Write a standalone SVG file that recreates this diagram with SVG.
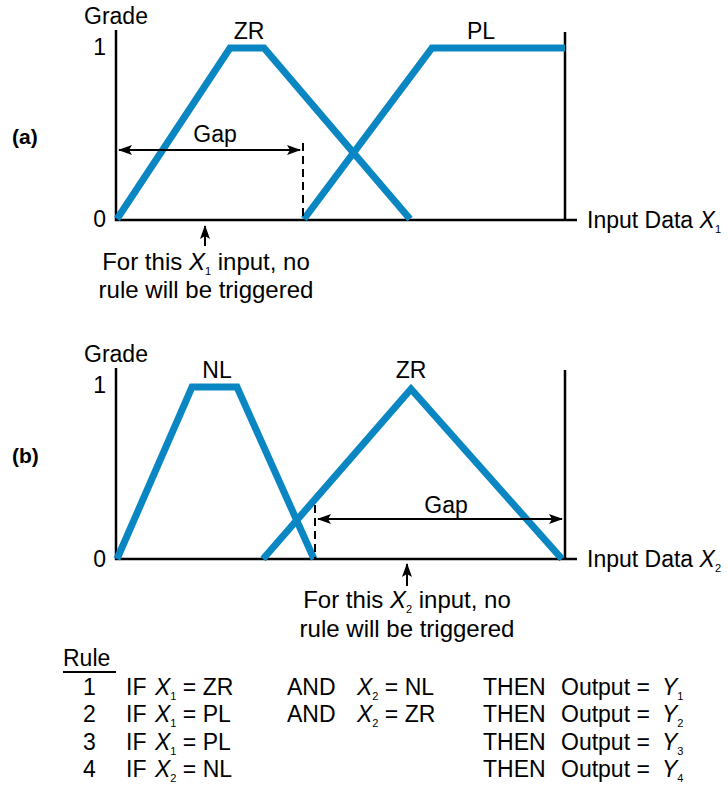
<svg xmlns="http://www.w3.org/2000/svg" width="728" height="790" viewBox="0 0 728 790">
<style>
text{font-family:"Liberation Sans",Arial,sans-serif;font-size:23px;fill:#000}
.b{font-weight:bold;font-size:21px}
.c{font-size:24px}
.i{font-style:italic}
.s{font-size:11px}
.m{text-anchor:middle}
.e{text-anchor:end}
.ax{stroke:#000;stroke-width:2.5;fill:none}
.mf{stroke:#0a86c3;stroke-width:7;fill:none;stroke-linejoin:miter}
.dash{stroke:#000;stroke-width:2;stroke-dasharray:8 5;fill:none}
.arr{stroke:#000;stroke-width:2;fill:none}
</style>
<defs>
<marker id="ah" markerWidth="14" markerHeight="10" refX="13" refY="5" orient="auto-start-reverse" markerUnits="userSpaceOnUse">
<path d="M0,0 L14,5 L0,10 L3,5 Z" fill="#000"/>
</marker>
</defs>

<g id="panel-a">
<text x="12" y="144" class="b">(a)</text>
<text x="84" y="24">Grade</text>
<text x="106" y="55" class="e">1</text>
<text x="106" y="227" class="e">0</text>
<text x="249" y="39" class="m">ZR</text>
<text x="481" y="39" class="m">PL</text>
<path class="ax" d="M116,30 V220 H577 M565,32 V220"/>
<polyline id="zr-a" class="mf" points="117,219 230,48 264,48 410,219"/>
<polyline id="pl-a" class="mf" points="304,219 432,48 565,48"/>
<text x="587" y="228">Input Data <tspan class="i">X</tspan><tspan class="s" dy="5">1</tspan></text>
</g>

<g id="panel-b">
<text x="12" y="463" class="b">(b)</text>
<text x="84" y="362">Grade</text>
<text x="106" y="393" class="e">1</text>
<text x="106" y="567" class="e">0</text>
<text x="217" y="378" class="m">NL</text>
<text x="411" y="378" class="m">ZR</text>
<path class="ax" d="M116,368 V559 H577 M565,370 V559"/>
<polyline id="nl-b" class="mf" points="117,559 192,387 237,387 314,559"/>
<polyline id="zr-b" class="mf" points="263,559 411,389 562,559"/>
<text x="587" y="567">Input Data <tspan class="i">X</tspan><tspan class="s" dy="5">2</tspan></text>
</g>

<g id="connectors">
<line class="arr" x1="119" y1="150" x2="300" y2="150" marker-start="url(#ah)" marker-end="url(#ah)"/>
<line class="dash" x1="303" y1="143" x2="303" y2="219"/>
<line class="arr" x1="205" y1="246" x2="205" y2="226" marker-end="url(#ah)"/>
<line class="arr" x1="318" y1="519" x2="562" y2="519" marker-start="url(#ah)" marker-end="url(#ah)"/>
<line class="dash" x1="315" y1="505" x2="315" y2="559"/>
<line class="arr" x1="407" y1="586" x2="407" y2="564" marker-end="url(#ah)"/>
</g>

<g id="labels">
<text x="215" y="142" class="m">Gap</text>
<text x="446" y="513" class="m">Gap</text>
<text x="206" y="270" class="m c">For this <tspan class="i">X</tspan><tspan class="s" dy="5">1</tspan><tspan dy="-5"> input, no</tspan></text>
<text x="206" y="298" class="m c">rule will be triggered</text>
<text x="407" y="608" class="m c">For this <tspan class="i">X</tspan><tspan class="s" dy="5">2</tspan><tspan dy="-5"> input, no</tspan></text>
<text x="407" y="637" class="m c">rule will be triggered</text>
</g>

<g id="rules">
<text x="63" y="666">Rule</text>
<line x1="63" y1="672" x2="116" y2="672" stroke="#000" stroke-width="2"/>
<text x="83" y="695">1</text>
<text x="126" y="695">IF</text>
<text x="155" y="695"><tspan class="i">X</tspan><tspan class="s" dy="5">1</tspan><tspan dy="-5"> = ZR</tspan></text>
<text x="287" y="695">AND</text>
<text x="357" y="695"><tspan class="i">X</tspan><tspan class="s" dy="5">2</tspan><tspan dy="-5"> = NL</tspan></text>
<text x="483" y="695">THEN</text>
<text x="561" y="695">Output =</text>
<text x="662" y="695"><tspan class="i">Y</tspan><tspan class="s" dy="5">1</tspan></text>

<text x="83" y="722">2</text>
<text x="126" y="722">IF</text>
<text x="155" y="722"><tspan class="i">X</tspan><tspan class="s" dy="5">1</tspan><tspan dy="-5"> = PL</tspan></text>
<text x="287" y="722">AND</text>
<text x="357" y="722"><tspan class="i">X</tspan><tspan class="s" dy="5">2</tspan><tspan dy="-5"> = ZR</tspan></text>
<text x="483" y="722">THEN</text>
<text x="561" y="722">Output =</text>
<text x="662" y="722"><tspan class="i">Y</tspan><tspan class="s" dy="5">2</tspan></text>

<text x="83" y="750">3</text>
<text x="126" y="750">IF</text>
<text x="155" y="750"><tspan class="i">X</tspan><tspan class="s" dy="5">1</tspan><tspan dy="-5"> = PL</tspan></text>
<text x="483" y="750">THEN</text>
<text x="561" y="750">Output =</text>
<text x="662" y="750"><tspan class="i">Y</tspan><tspan class="s" dy="5">3</tspan></text>

<text x="83" y="777">4</text>
<text x="126" y="777">IF</text>
<text x="155" y="777"><tspan class="i">X</tspan><tspan class="s" dy="5">2</tspan><tspan dy="-5"> = NL</tspan></text>
<text x="483" y="777">THEN</text>
<text x="561" y="777">Output =</text>
<text x="662" y="777"><tspan class="i">Y</tspan><tspan class="s" dy="5">4</tspan></text>
</g>
</svg>
